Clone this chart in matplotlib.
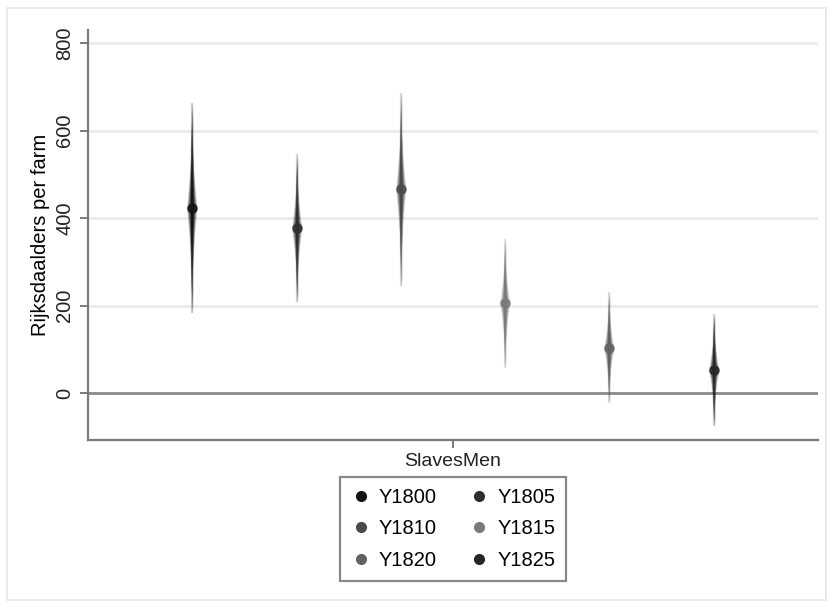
import matplotlib
matplotlib.use("Agg")
import matplotlib.pyplot as plt
import numpy as np
from matplotlib.lines import Line2D
from matplotlib.patches import Rectangle

plt.rcParams['font.family'] = ['Liberation Sans', 'DejaVu Sans']

categories = ["SlavesMen"]
series = ["Y1800", "Y1805", "Y1810", "Y1815", "Y1820", "Y1825"]
estimates = [423, 377, 466, 206, 103, 53]
ci_low = [183, 208, 245, 57, -23, -75]
ci_high = [663, 546, 686, 352, 231, 181]
colors = ["#141414", "#2e2e2e", "#4a4a4a", "#7a7a7a", "#626262", "#262626"]
yticks = [0, 200, 400, 600, 800]

fig = plt.figure(figsize=(8.33, 6.08), dpi=100)
ax = fig.add_axes([88/833, 1-440/608, (818-88)/833, (440-30)/608])

# outer frame
fig.patches.append(Rectangle((7/833, 8/608), 819/833, 592/608, transform=fig.transFigure,
                             fill=False, edgecolor="#e6e6e6", linewidth=1.2))

n = len(series)
offsets = (np.arange(n) - (n - 1) / 2) / 7.0
cat_x = 1.0

for yv in yticks[1:]:
    ax.axhline(yv, color="#e9e9e9", lw=1.8, zorder=0)
ax.axhline(0, color="#8a8a8a", lw=2.0, zorder=1)

nlayers = 60
for i in range(n):
    x = cat_x + offsets[i]
    est = estimates[i]
    lo_h = est - ci_low[i]
    hi_h = ci_high[i] - est
    ax.plot([x, x], [ci_low[i], ci_high[i]], color=colors[i], lw=1.6, alpha=0.18,
            solid_capstyle="butt", zorder=2)
    for k in range(nlayers):
        t = (k + 1) / nlayers
        lw = 1.0 + 7.0 * (1 - t) ** 2.5
        ax.plot([x, x], [est - t * lo_h, est + t * hi_h], color=colors[i], lw=lw,
                alpha=0.06, solid_capstyle="butt", zorder=3)
    ax.plot([x], [est], marker="o", ms=6.5, color=colors[i], mec=colors[i], alpha=0.85, zorder=4)

ax.set_xlim(0.5, 1.5)
ax.set_ylim(-107, 830)
ax.set_xticks([cat_x])
ax.set_xticklabels(categories, fontsize=14)
ax.set_yticks(yticks)
ax.set_yticklabels([str(v) for v in yticks], fontsize=14.5, rotation=90, va="center")
ax.set_ylabel("Rijksdaalders per farm", fontsize=14.5, labelpad=4)

for s in ["top", "right"]:
    ax.spines[s].set_visible(False)
for s in ["left", "bottom"]:
    ax.spines[s].set_color("#7a7a7a")
    ax.spines[s].set_linewidth(1.6)
ax.tick_params(axis="both", color="#7a7a7a", width=1.4, length=6, labelcolor="#222222")
ax.tick_params(axis="y", pad=4)

handles = [Line2D([], [], marker="o", ls="", ms=7, color=c) for c in colors]
order = [0, 2, 4, 1, 3, 5]
leg = fig.legend([handles[j] for j in order], [series[j] for j in order], loc="center",
                 bbox_to_anchor=(453/833, 1-529/608),
                 ncol=2, fontsize=14.5, frameon=True, fancybox=False, edgecolor="#6a6a6a",
                 handletextpad=0.4, columnspacing=1.6, labelspacing=0.6,
                 borderpad=0.55, handlelength=1.0)
leg.get_frame().set_linewidth(1.6)

fig.savefig("out.png", dpi=100, facecolor="white")
